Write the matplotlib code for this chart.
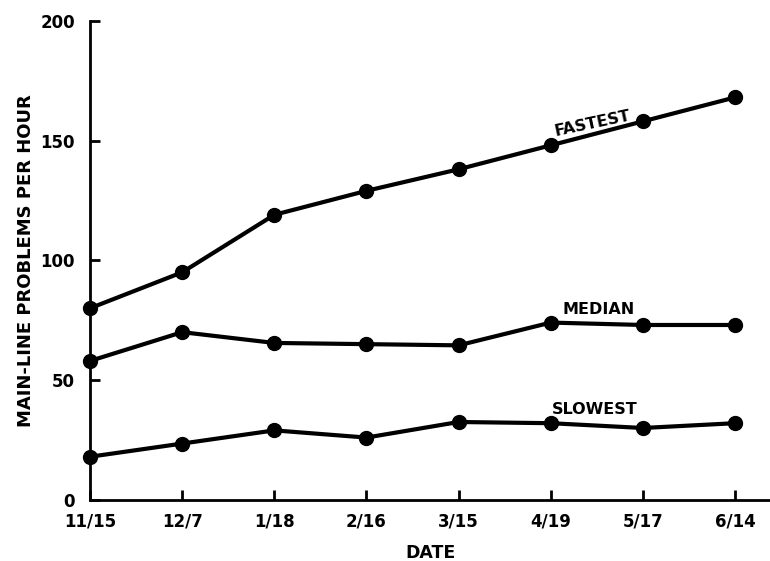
import matplotlib
matplotlib.use("Agg")
import matplotlib.pyplot as plt

dates = ["11/15", "12/7", "1/18", "2/16", "3/15", "4/19", "5/17", "6/14"]
fastest = [80, 95, 119, 129, 138, 148, 158, 168]
median = [58, 70, 65.5, 65, 64.5, 74, 73, 73]
slowest = [18, 23.5, 29, 26, 32.5, 32, 30, 32]

plt.rcParams['font.family'] = ['DejaVu Sans']
plt.rcParams['font.weight'] = 'bold'

fig = plt.figure(figsize=(7.7, 5.61), dpi=100)
ax = fig.add_axes([0.117, 0.109, 0.883, 0.854])

x = list(range(len(dates)))
for series in (fastest, median, slowest):
    ax.plot(x, series, color='black', lw=3, marker='o', ms=10, clip_on=False, zorder=3)

# line labels
ax.text(5.45, 150.5, "FASTEST", fontsize=11.5, fontweight='bold', rotation=12,
        ha='center', va='bottom')
ax.text(5.52, 76.5, "MEDIAN", fontsize=11.5, fontweight='bold', ha='center', va='bottom')
ax.text(5.48, 34.5, "SLOWEST", fontsize=11.5, fontweight='bold', ha='center', va='bottom')

ax.set_xlim(0, 7.38)
ax.set_ylim(0, 200)
ax.set_xticks(x)
ax.set_xticklabels(dates)
ax.set_yticks([0, 50, 100, 150, 200])

for side in ('top', 'right'):
    ax.spines[side].set_visible(False)
for side in ('left', 'bottom'):
    ax.spines[side].set_linewidth(2)

ax.tick_params(axis='both', direction='in', length=7, width=2, labelsize=12)
ax.tick_params(axis='y', pad=11)
ax.tick_params(axis='x', pad=9)

ax.set_ylabel("MAIN-LINE PROBLEMS PER HOUR", fontsize=13, fontweight='bold', labelpad=4)
ax.set_xlabel("DATE", fontsize=12.5, fontweight='bold', labelpad=10)

plt.savefig('out.png', dpi=100)
plt.close()
